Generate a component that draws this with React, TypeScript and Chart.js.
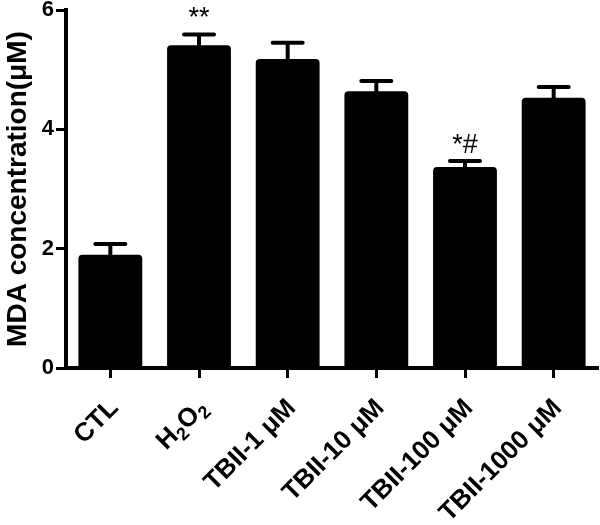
import React, { useEffect, useRef } from "react";
import { Chart, registerables } from "chart.js";

Chart.register(...registerables);

const categories = ["CTL", "H₂O₂", "TBII-1 μM", "TBII-10 μM", "TBII-100 μM", "TBII-1000 μM"];
const means = [1.9, 5.41, 5.18, 4.64, 3.37, 4.53];
const errors = [0.18, 0.18, 0.27, 0.17, 0.1, 0.18];
const significance = ["", "**", "", "", "*#", ""];
const yTicks = [0, 2, 4, 6];
const yTitle = "MDA concentration(μM)";

const FONT = '"Liberation Sans", Arial, Helvetica, sans-serif';

function splitRuns(label: string) {
  const runs: { text: string; sub: boolean }[] = [];
  for (const ch of label) {
    const code = ch.codePointAt(0) as number;
    const sub = code >= 0x2080 && code <= 0x2089;
    const text = sub ? String.fromCharCode(48 + code - 0x2080) : ch;
    const last = runs[runs.length - 1];
    if (last && last.sub === sub) last.text += text;
    else runs.push({ text, sub });
  }
  return runs;
}

const errorBarPlugin = {
  id: "errorBars",
  afterDatasetsDraw(chart: any) {
    const ctx = chart.ctx;
    const ys = chart.scales.y;
    const meta = chart.getDatasetMeta(0);
    ctx.save();
    ctx.strokeStyle = "#000";
    ctx.fillStyle = "#000";
    meta.data.forEach((bar: any, i: number) => {
      const x = bar.x;
      const yTop = ys.getPixelForValue(means[i] + errors[i]);
      ctx.lineWidth = 4;
      ctx.lineCap = "butt";
      ctx.beginPath();
      ctx.moveTo(x, bar.y + 2);
      ctx.lineTo(x, yTop);
      ctx.stroke();
      ctx.lineCap = "round";
      ctx.beginPath();
      ctx.moveTo(x - 15, yTop);
      ctx.lineTo(x + 15, yTop);
      ctx.stroke();
      if (significance[i]) {
        ctx.font = `27px ${FONT}`;
        ctx.textAlign = "center";
        ctx.textBaseline = "alphabetic";
        ctx.fillText(significance[i], x, yTop - 8);
      }
    });
    ctx.restore();
  },
};

const xLabelPlugin = {
  id: "xLabels",
  afterDraw(chart: any) {
    const ctx = chart.ctx;
    const xs = chart.scales.x;
    const size = 26;
    const normalFont = `bold ${size}px ${FONT}`;
    const subFont = `bold ${Math.round(size * 0.68)}px ${FONT}`;
    ctx.save();
    ctx.fillStyle = "#000";
    categories.forEach((lab, i) => {
      const x = xs.getPixelForTick(i);
      const runs = splitRuns(lab);
      const widths = runs.map((r) => {
        ctx.font = r.sub ? subFont : normalFont;
        return ctx.measureText(r.text).width;
      });
      const total = widths.reduce((a, b) => a + b, 0);
      ctx.save();
      ctx.translate(x + 4, xs.top + 36);
      ctx.rotate(-Math.PI / 4);
      ctx.textAlign = "left";
      ctx.textBaseline = "middle";
      let cx = -total;
      runs.forEach((r, k) => {
        ctx.font = r.sub ? subFont : normalFont;
        ctx.fillText(r.text, cx, r.sub ? size * 0.3 : 0);
        cx += widths[k];
      });
      ctx.restore();
    });
    ctx.restore();
  },
};

export default function App() {
  const ref = useRef<HTMLCanvasElement>(null);
  useEffect(() => {
    if (!ref.current) return;
    const chart = new Chart(ref.current, {
      type: "bar",
      data: {
        labels: categories,
        datasets: [
          {
            data: means,
            backgroundColor: "#000",
            borderWidth: 0,
            borderRadius: { topLeft: 4, topRight: 4, bottomLeft: 0, bottomRight: 0 },
            borderSkipped: false,
            barPercentage: 0.72,
            categoryPercentage: 1,
          },
        ],
      },
      options: {
        responsive: false,
        animation: false,
        layout: { padding: { top: 10, right: 2, left: 0, bottom: 0 } },
        plugins: { legend: { display: false }, tooltip: { enabled: false } },
        scales: {
          x: {
            offset: true,
            grid: {
              offset: false,
              drawOnChartArea: false,
              drawTicks: true,
              tickLength: 10,
              tickWidth: 3,
              tickColor: "#000",
            },
            border: { color: "#000", width: 4 },
            ticks: { display: false },
            afterFit: (s: any) => {
              s.height = 157;
              s.paddingLeft = 0;
              s.paddingRight = 0;
            },
          },
          y: {
            min: 0,
            max: 6,
            afterBuildTicks: (s: any) => {
              s.ticks = yTicks.map((v) => ({ value: v }));
            },
            grid: {
              drawOnChartArea: false,
              drawTicks: true,
              tickLength: 10,
              tickWidth: 3,
              tickColor: "#000",
            },
            border: { color: "#000", width: 4 },
            ticks: {
              color: "#000",
              padding: 2,
              font: { family: FONT, size: 22, weight: "bold" },
            },
            title: {
              display: true,
              text: yTitle,
              color: "#000",
              padding: { top: 1, bottom: 0 },
              font: { family: FONT, size: 28, weight: "bold" },
            },
            afterFit: (s: any) => {
              s.width = 66;
              s.paddingTop = 0;
              s.paddingBottom = 0;
            },
          },
        },
      },
      plugins: [errorBarPlugin, xLabelPlugin],
    });
    return () => chart.destroy();
  }, []);
  return (
    <div style={{ position: "absolute", left: 0, top: 0, width: 600, height: 525, background: "#fff" }}>
      <canvas ref={ref} width={600} height={525} />
    </div>
  );
}
